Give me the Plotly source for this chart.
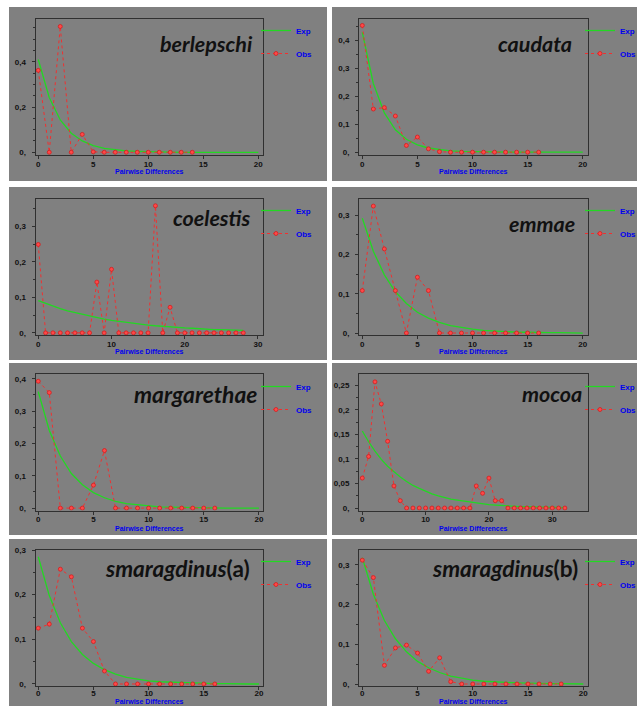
import plotly.graph_objects as go

W, H = 637, 706

# ---------------- data ----------------
names = ["berlepschi", "caudata", "coelestis", "emmae",
         "margarethae", "mocoa", "smaragdinus(a)", "smaragdinus(b)"]

berlepschi_obs = [0.362, 0.0, 0.556, 0.0, 0.079, 0.002, 0.0, 0.0, 0.0, 0.0, 0.0, 0.0, 0.0, 0.0, 0.0]
berlepschi_exp = [0.410, 0.242, 0.143, 0.084, 0.050, 0.029, 0.017, 0.010, 0.006, 0.004, 0.002,
                  0.001, 0.001, 0.0, 0.0, 0.0, 0.0, 0.0, 0.0, 0.0, 0.0]

caudata_obs = [0.452, 0.154, 0.159, 0.129, 0.024, 0.054, 0.012, 0.002, 0.0, 0.0, 0.0, 0.0,
               0.0, 0.0, 0.0, 0.0, 0.0]
caudata_exp = [0.427, 0.245, 0.140, 0.080, 0.046, 0.026, 0.015, 0.009, 0.005, 0.003, 0.002,
               0.001, 0.001, 0.0, 0.0, 0.0, 0.0, 0.0, 0.0, 0.0, 0.0]

coelestis_obs = [0.249, 0.0, 0.0, 0.0, 0.0, 0.0, 0.0, 0.0, 0.143, 0.0, 0.179, 0.0, 0.0, 0.0,
                 0.0, 0.0, 0.358, 0.0, 0.072, 0.0, 0.0, 0.0, 0.0, 0.0, 0.0, 0.0, 0.0, 0.0, 0.0]
coelestis_exp = [0.091, 0.083, 0.075, 0.068, 0.062, 0.057, 0.052, 0.047, 0.043, 0.039, 0.035,
                 0.032, 0.029, 0.027, 0.024, 0.022, 0.020, 0.018, 0.017, 0.015, 0.014, 0.013,
                 0.011, 0.010, 0.009, 0.009, 0.008, 0.007, 0.007]

emmae_obs = [0.108, 0.323, 0.214, 0.108, 0.0, 0.142, 0.108, 0.0, 0.0, 0.0, 0.0, 0.0, 0.0,
             0.0, 0.0, 0.0, 0.0]
emmae_exp = [0.292, 0.208, 0.148, 0.105, 0.075, 0.053, 0.038, 0.027, 0.019, 0.014, 0.010,
             0.007, 0.005, 0.003, 0.002, 0.002, 0.001, 0.001, 0.001, 0.0, 0.0]

margarethae_obs = [0.392, 0.357, 0.0, 0.0, 0.0, 0.071, 0.178, 0.0, 0.0, 0.0, 0.0, 0.0, 0.0,
                   0.0, 0.0, 0.0, 0.0]
margarethae_exp = [0.360, 0.240, 0.161, 0.107, 0.072, 0.048, 0.032, 0.021, 0.014, 0.010,
                   0.006, 0.004, 0.003, 0.002, 0.001, 0.001, 0.0, 0.0, 0.0, 0.0, 0.0]

mocoa_obs = [0.061, 0.105, 0.257, 0.212, 0.136, 0.045, 0.015, 0.0, 0.0, 0.0, 0.0, 0.0, 0.0,
             0.0, 0.0, 0.0, 0.0, 0.0, 0.045, 0.030, 0.061, 0.015, 0.015, 0.0, 0.0, 0.0, 0.0,
             0.0, 0.0, 0.0, 0.0, 0.0, 0.0]
mocoa_exp = [0.157, 0.135, 0.116, 0.099, 0.085, 0.073, 0.063, 0.054, 0.046, 0.040, 0.034,
             0.029, 0.025, 0.021, 0.018, 0.016, 0.014, 0.012, 0.010, 0.009, 0.007, 0.006,
             0.005, 0.005, 0.004, 0.003, 0.003, 0.002, 0.002, 0.002, 0.002, 0.001, 0.001]

smaragdinus_a_obs = [0.125, 0.134, 0.257, 0.240, 0.125, 0.095, 0.029, 0.0, 0.0, 0.0, 0.0,
                     0.0, 0.0, 0.0, 0.0, 0.0, 0.0]
smaragdinus_a_exp = [0.285, 0.198, 0.137, 0.095, 0.066, 0.046, 0.032, 0.022, 0.015, 0.011,
                     0.007, 0.005, 0.004, 0.003, 0.002, 0.001, 0.001, 0.001, 0.0, 0.0, 0.0]

smaragdinus_b_obs = [0.312, 0.268, 0.047, 0.091, 0.098, 0.078, 0.032, 0.066, 0.006, 0.0,
                     0.0, 0.0, 0.0, 0.0, 0.0, 0.0, 0.0, 0.0, 0.0]
smaragdinus_b_exp = [0.318, 0.226, 0.160, 0.114, 0.081, 0.057, 0.041, 0.029, 0.020, 0.015,
                     0.010, 0.007, 0.005, 0.004, 0.003, 0.002, 0.001, 0.001, 0.001, 0.0, 0.0]

obs_series = [berlepschi_obs, caudata_obs, coelestis_obs, emmae_obs,
              margarethae_obs, mocoa_obs, smaragdinus_a_obs, smaragdinus_b_obs]
exp_series = [berlepschi_exp, caudata_exp, coelestis_exp, emmae_exp,
              margarethae_exp, mocoa_exp, smaragdinus_a_exp, smaragdinus_b_exp]

x_tickvals = [[0, 5, 10, 15, 20], [0, 5, 10, 15, 20], [0, 10, 20, 30], [0, 5, 10, 15, 20],
              [0, 5, 10, 15, 20], [0, 10, 20, 30], [0, 5, 10, 15, 20], [0, 5, 10, 15, 20]]
y_tickvals = [[0, 0.2, 0.4], [0, 0.1, 0.2, 0.3, 0.4], [0, 0.1, 0.2, 0.3], [0, 0.1, 0.2, 0.3],
              [0, 0.1, 0.2, 0.3, 0.4], [0, 0.05, 0.1, 0.15, 0.2, 0.25], [0, 0.1, 0.2, 0.3],
              [0, 0.1, 0.2, 0.3]]
y_ticktext = [["0,", "0,2", "0,4"], ["0,", "0,1", "0,2", "0,3", "0,4"], ["0,", "0,1", "0,2", "0,3"],
              ["0,", "0,1", "0,2", "0,3"], ["0,", "0,1", "0,2", "0,3", "0,4"],
              ["0,", "0,05", "0,1", "0,15", "0,2", "0,25"], ["0,", "0,1", "0,2", "0,3"],
              ["0,", "0,1", "0,2", "0,3"]]
x_title = "Pairwise Differences"
legend_names = ["Exp", "Obs"]

# ---------------- layout geometry (pixels) ----------------
cols = [(9, 327), (332, 637)]
rows = [(7, 181), (187, 360), (363, 535), (539, 706)]
plot_x = [(35.5, 262.7), (359, 587.7)]
plot_y = [(19, 155), (199, 335), (374, 510.5), (550, 686)]
x_ranges = [[-0.25, 20.4], [-0.3, 20.45], [-0.38, 30.65], [-0.3, 20.45],
            [-0.25, 20.34], [-0.52, 35.6], [-0.25, 20.34], [-0.3, 20.4]]
y_ranges = [[-0.012, 0.589], [-0.01, 0.475], [-0.006, 0.377], [-0.005, 0.341],
            [-0.0074, 0.4145], [-0.005, 0.273], [-0.0045, 0.30], [-0.005, 0.3375]]
y_minor = [0.05, 0.05, 0.05, 0.05, 0.05, 0.025, 0.05, 0.05]
title_pos = [(255, 44), (574, 44), (252, 218), (577, 224), (259, 394), (584, 394),
             (252, 568), (580, 568)]
title_size = [21.5, 21.5, 21.5, 21.5, 22.8, 21.5, 22.6, 22.6]
xtitle_y = [172, 352, 528.5, 701.6]
xlabel_standoff = [-2, -2, -2, -4]
legend_y = [33, 213, 389, 564]
legend_text_x = [296, 620]

GRAY = "#808080"
FRAME = "#303030"
RED = "#f03030"
GREEN = "#22d822"
BLUE = "#0000ee"
NARROW = "Liberation Sans Narrow, Liberation Sans, Arial"
TICKFONT = dict(family=NARROW, size=8, color="#111111", weight="bold")


def px(x):
    return x / W


def py(y):
    return 1 - y / H


fig = go.Figure()
shapes = []
annotations = []
layout = {}

for i in range(8):
    r, c = divmod(i, 2)
    sfx = "" if i == 0 else str(i + 1)
    xa, ya = "x" + sfx, "y" + sfx
    lg = "legend" + sfx

    shapes.append(dict(type="rect", xref="paper", yref="paper", layer="below",
                       x0=px(cols[c][0]), x1=px(cols[c][1]),
                       y0=py(rows[r][1]), y1=py(rows[r][0]),
                       fillcolor=GRAY, line=dict(width=0)))

    exp = exp_series[i]
    obs = obs_series[i]
    fig.add_trace(go.Scatter(
        x=list(range(len(exp))), y=exp, mode="lines", name=legend_names[0],
        line=dict(color=GREEN, width=1.3), xaxis=xa, yaxis=ya, legend=lg,
        legendgroup="e" + str(i)))
    fig.add_trace(go.Scatter(
        x=list(range(len(obs))), y=obs, mode="lines+markers", name=legend_names[1],
        line=dict(color=RED, width=1, dash="dot"),
        marker=dict(symbol="circle", size=4, color="#ff4848",
                    line=dict(color="#d02020", width=0.8)),
        xaxis=xa, yaxis=ya, legend=lg, legendgroup="o" + str(i)))

    layout["xaxis" + sfx] = dict(
        domain=[px(plot_x[c][0]), px(plot_x[c][1])], range=x_ranges[i],
        anchor=ya, tickvals=x_tickvals[i], ticks="outside", ticklen=3,
        tickcolor=FRAME, tickfont=TICKFONT, showgrid=False, zeroline=False,
        showline=True, linecolor=FRAME, linewidth=1, mirror=True,
        ticklabelstandoff=xlabel_standoff[r])
    layout["yaxis" + sfx] = dict(
        domain=[py(plot_y[r][1]), py(plot_y[r][0])], range=y_ranges[i],
        anchor=xa, tickvals=y_tickvals[i], ticktext=y_ticktext[i], ticks="outside",
        ticklen=3, tickcolor=FRAME, tickfont=TICKFONT, showgrid=False,
        zeroline=False, showline=True, linecolor=FRAME, linewidth=1, mirror=True,
        ticklabelstandoff=4,
        minor=dict(dtick=y_minor[i], ticks="outside", ticklen=2, tickcolor=FRAME))

    layout[lg] = dict(
        x=px(legend_text_x[c] - 40), y=py(legend_y[r] - 17), xanchor="left", yanchor="top",
        bgcolor="rgba(0,0,0,0)", borderwidth=0, tracegroupgap=4,
        traceorder="grouped", itemwidth=30,
        font=dict(family=NARROW, size=8, color=BLUE, weight="bold"))

    # x-axis title
    annotations.append(dict(text=x_title, xref="paper", yref="paper",
                            x=px((plot_x[c][0] + plot_x[c][1]) / 2), y=py(xtitle_y[r]),
                            xanchor="center", yanchor="middle", showarrow=False,
                            font=dict(family=NARROW, size=7, color=BLUE, weight="bold")))

    tx, ty = title_pos[i]
    nm = names[i]
    if "(" in nm:
        base, tail = nm.split("(")
        txt = "<b><i>" + base + "</i>(" + tail + "</b>"
    else:
        txt = "<b><i>" + nm + "</i></b>"
    annotations.append(dict(text=txt, xref="paper", yref="paper", x=px(tx), y=py(ty),
                            xanchor="right", yanchor="middle", showarrow=False,
                            font=dict(family="Lato", size=title_size[i], color="#111111")))

fig.update_layout(
    width=W, height=H, margin=dict(l=0, r=0, t=0, b=0, autoexpand=False), autosize=False,
    paper_bgcolor="white", plot_bgcolor=GRAY, showlegend=True,
    shapes=shapes, annotations=annotations, **layout)

fig.write_html("out.html")
